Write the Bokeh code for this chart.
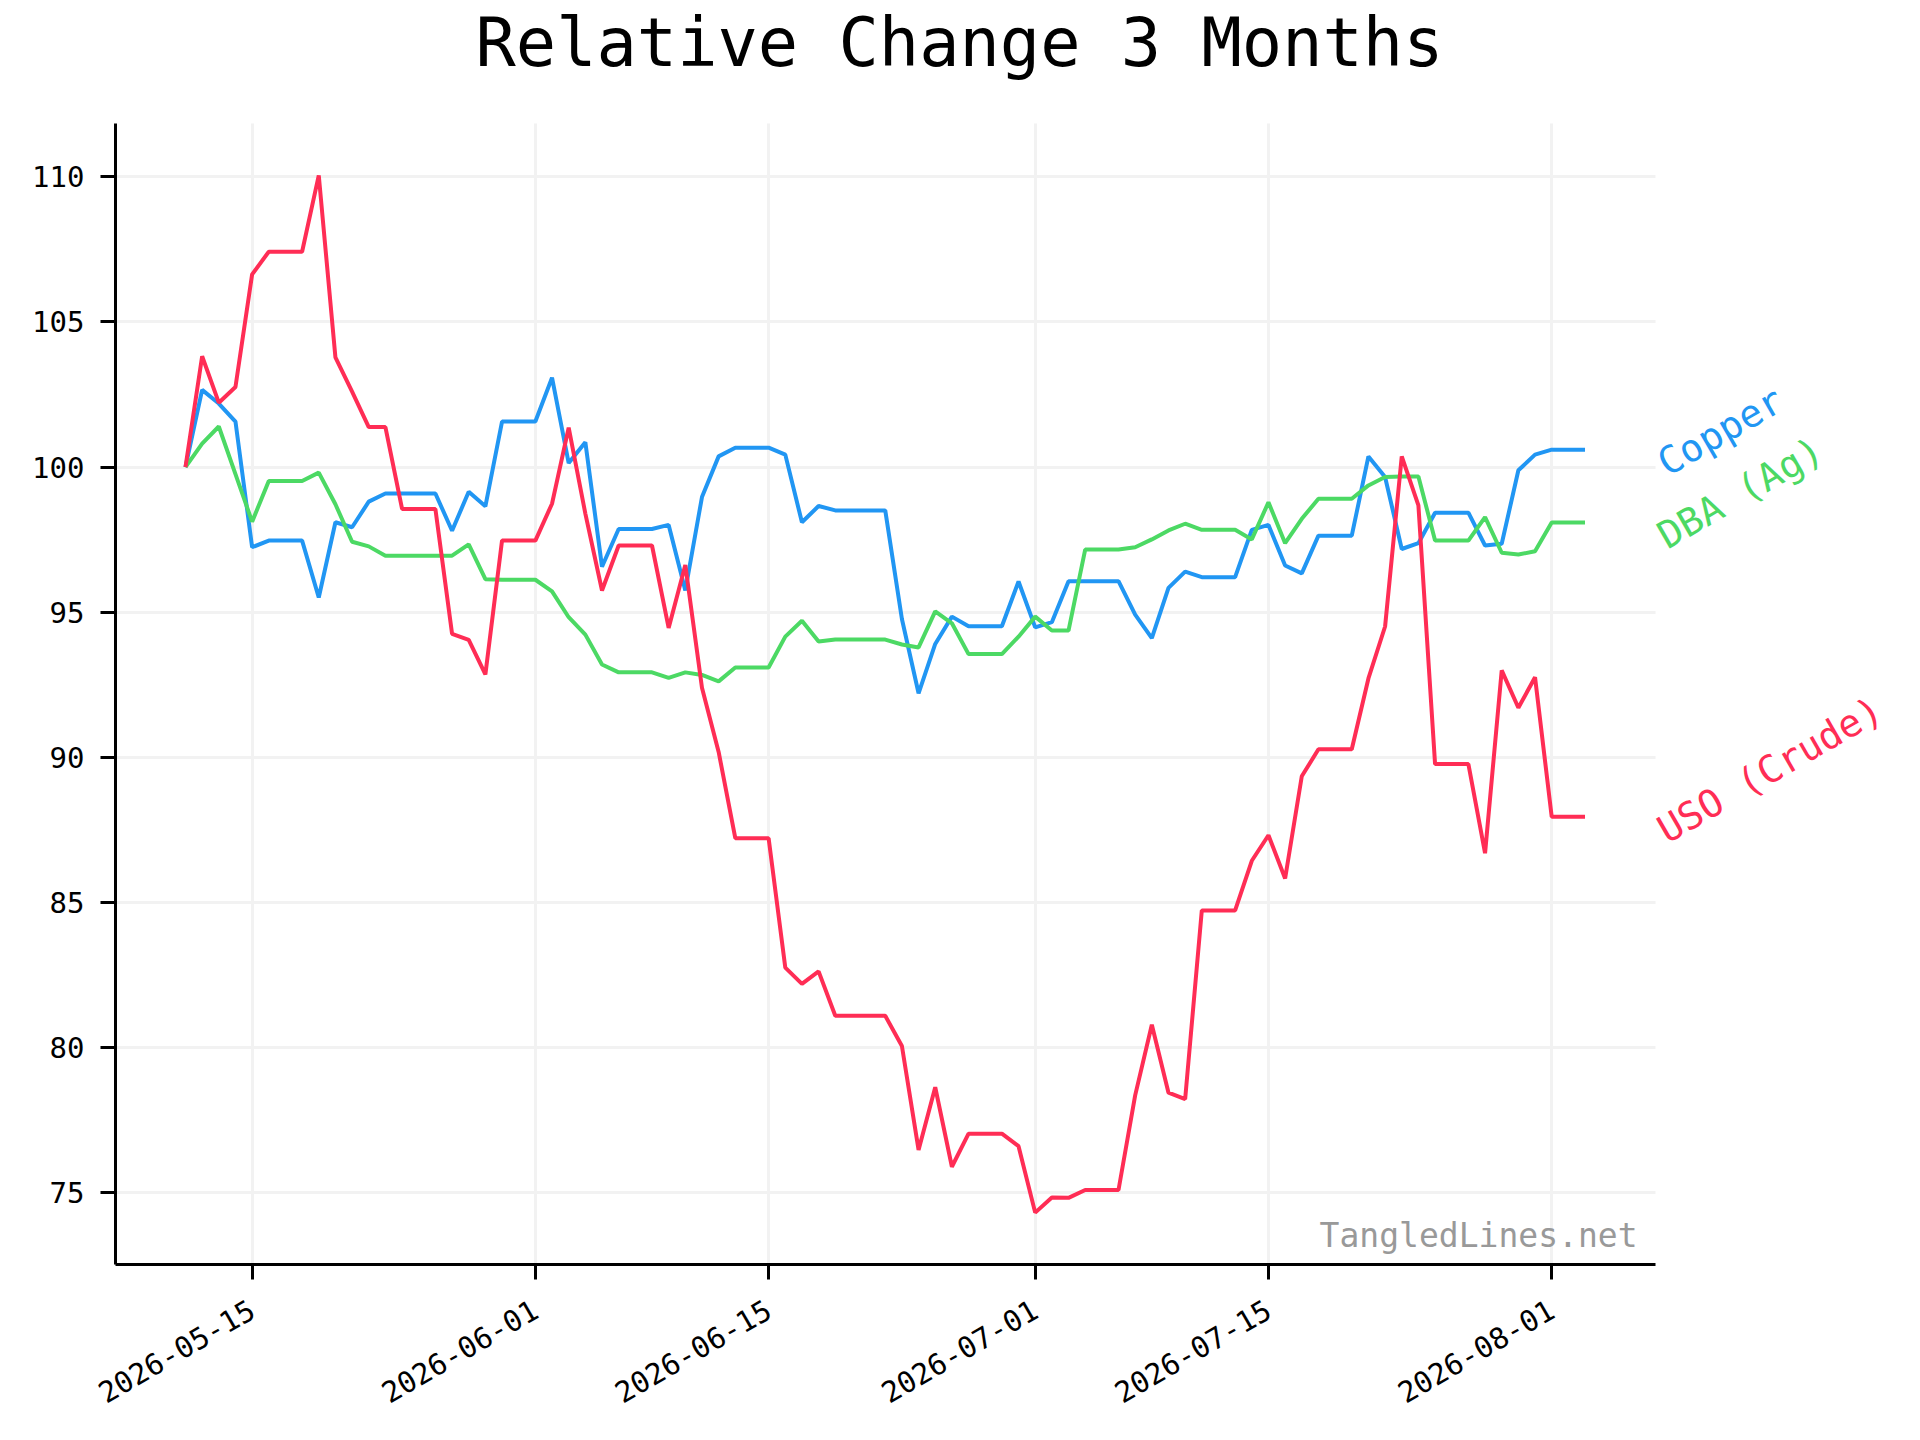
import pandas as pd
from math import radians
from bokeh.plotting import figure
from bokeh.models import (Range1d, FixedTicker, DatetimeTickFormatter, Label,
                          ColumnDataSource, Grid)
from bokeh.embed import file_html
from bokeh.resources import INLINE

# ---------------- data ----------------
dates = pd.date_range("2026-05-11", "2026-08-03", freq="D")

copper = [100.0, 102.66, 102.19, 101.57, 97.24, 97.47, 97.47, 97.47, 95.51, 98.10,
          97.93, 98.81, 99.09, 99.09, 99.09, 99.09, 97.81, 99.15, 98.65, 101.57,
          101.57, 101.57, 103.08, 100.14, 100.86, 96.57, 97.87, 97.87, 97.87, 98.01,
          95.75, 98.97, 100.37, 100.67, 100.67, 100.67, 100.43, 98.10, 98.66, 98.51,
          98.51, 98.51, 98.51, 94.77, 92.21, 93.91, 94.85, 94.52, 94.52, 94.52,
          96.06, 94.48, 94.66, 96.07, 96.07, 96.07, 96.07, 94.92, 94.11, 95.84,
          96.40, 96.21, 96.21, 96.21, 97.84, 98.01, 96.61, 96.34, 97.64, 97.64,
          97.64, 100.37, 99.66, 97.18, 97.38, 98.43, 98.43, 98.43, 97.30, 97.36,
          99.89, 100.43, 100.60, 100.60, 100.60]

dba = [100.0, 100.81, 101.40, 99.76, 98.12, 99.52, 99.52, 99.52, 99.81, 98.72,
       97.43, 97.27, 96.95, 96.95, 96.95, 96.95, 96.95, 97.34, 96.14, 96.12,
       96.12, 96.12, 95.72, 94.83, 94.23, 93.20, 92.93, 92.93, 92.93, 92.74,
       92.93, 92.84, 92.62, 93.10, 93.10, 93.10, 94.16, 94.71, 93.99, 94.06,
       94.06, 94.06, 94.06, 93.89, 93.79, 95.03, 94.62, 93.56, 93.56, 93.56,
       94.16, 94.85, 94.37, 94.37, 97.16, 97.16, 97.16, 97.24, 97.51, 97.82,
       98.05, 97.84, 97.84, 97.84, 97.51, 98.79, 97.38, 98.22, 98.91, 98.91,
       98.91, 99.37, 99.66, 99.68, 99.68, 97.47, 97.47, 97.47, 98.28, 97.05,
       96.99, 97.10, 98.09, 98.09, 98.09]

uso = [100.0, 103.82, 102.22, 102.76, 106.64, 107.42, 107.42, 107.42, 110.05, 103.78,
       102.6, 101.38, 101.38, 98.56, 98.56, 98.56, 94.26, 94.05, 92.86, 97.47,
       97.47, 97.47, 98.74, 101.36, 98.4, 95.75, 97.30, 97.30, 97.30, 94.46,
       96.63, 92.4, 90.19, 87.22, 87.22, 87.22, 82.76, 82.20, 82.63, 81.10,
       81.10, 81.10, 81.10, 80.06, 76.48, 78.64, 75.90, 77.04, 77.04, 77.04,
       76.61, 74.32, 74.84, 74.83, 75.10, 75.10, 75.10, 78.36, 80.79, 78.45,
       78.23, 84.73, 84.73, 84.73, 86.44, 87.32, 85.83, 89.35, 90.28, 90.28,
       90.28, 92.72, 94.51, 100.37, 98.68, 89.77, 89.77, 89.77, 86.70, 93.0,
       91.71, 92.76, 87.96, 87.96, 87.96]

series_names = ["Copper", "DBA (Ag)", "USO (Crude)"]
series_colors = ["#2196F3", "#4CD964", "#FF2D55"]
x_tick_labels = ["2026-05-15", "2026-06-01", "2026-06-15", "2026-07-01", "2026-07-15", "2026-08-01"]
y_ticks = [75, 80, 85, 90, 95, 100, 105, 110]
title_text = "Relative Change 3 Months"
watermark_text = "TangledLines.net"

FONT = "DejaVu Sans Mono"

# ---------------- layout (pixels) ----------------
W, H = 1904, 1424
AX_LEFT, AX_RIGHT = 115, 1654.5      # visible axes box
AX_TOP, AX_BOTTOM = 123, 1264
BORDER_BOTTOM = H - AX_BOTTOM
FRAME_W = W - AX_LEFT                # frame extended to right/top edge so that
FRAME_H = AX_BOTTOM                  # outside labels are not clipped


def ms(t):
    return pd.Timestamp(t).value // 10**6


x_ms = [ms(d) for d in dates]
series = [copper, dba, uso]

# axes limits with 5% padding (matplotlib-style margins)
xpad = (x_ms[-1] - x_ms[0]) * 0.05
x_lo, x_hi = x_ms[0] - xpad, x_ms[-1] + xpad
allv = copper + dba + uso
ypad = (max(allv) - min(allv)) * 0.05
y_lo, y_hi = min(allv) - ypad, max(allv) + ypad

# extend ranges so the axes box keeps its size inside the larger frame
x_end = x_lo + (x_hi - x_lo) * FRAME_W / (AX_RIGHT - AX_LEFT)
y_end = y_lo + (y_hi - y_lo) * FRAME_H / (AX_BOTTOM - AX_TOP)

p = figure(width=W, height=H, x_axis_type="datetime",
           x_range=Range1d(x_lo, x_end), y_range=Range1d(y_lo, y_end),
           output_backend="svg", toolbar_location=None,
           min_border_left=AX_LEFT, min_border_right=0,
           min_border_top=0, min_border_bottom=BORDER_BOTTOM)

p.background_fill_color = "white"
p.border_fill_color = "white"
p.outline_line_color = None

# axes
tick_ms = [ms(t) for t in x_tick_labels]
p.xaxis.ticker = FixedTicker(ticks=tick_ms)
fmt = "%Y-%m-%d"
p.xaxis.formatter = DatetimeTickFormatter(milliseconds=fmt, seconds=fmt, minsec=fmt, minutes=fmt,
                                          hourmin=fmt, hours=fmt, days=fmt, months=fmt, years=fmt)
p.xaxis.major_label_orientation = radians(30)
p.yaxis.ticker = FixedTicker(ticks=y_ticks)
p.xaxis.bounds = (x_lo, x_hi)
p.yaxis.bounds = (y_lo, y_hi)

for ax in (p.xaxis, p.yaxis):
    ax.major_label_text_font = FONT
    ax.major_label_text_font_size = "29px"
    ax.major_label_text_color = "black"
    ax.major_tick_out = 15
    ax.major_tick_in = 0
    ax.major_tick_line_width = 3
    ax.major_tick_line_color = "black"
    ax.minor_tick_line_color = None
    ax.axis_line_width = 3
    ax.axis_line_color = "black"
p.yaxis.major_label_standoff = 16
p.xaxis.major_label_standoff = 28

GRID_COLOR = "#f2f2f2"
if "cross_bounds" in Grid.properties():
    p.grid.grid_line_color = GRID_COLOR
    p.grid.grid_line_width = 3
    p.xgrid.cross_bounds = (y_lo, y_hi)
    p.ygrid.cross_bounds = (x_lo, x_hi)
else:
    p.grid.visible = False
    p.segment(x0=tick_ms, y0=[y_lo] * len(tick_ms), x1=tick_ms, y1=[y_hi] * len(tick_ms),
              line_color=GRID_COLOR, line_width=3)
    p.segment(x0=[x_lo] * len(y_ticks), y0=y_ticks, x1=[x_hi] * len(y_ticks), y1=y_ticks,
              line_color=GRID_COLOR, line_width=3)

# lines
src = ColumnDataSource(dict(x=x_ms, copper=copper, dba=dba, uso=uso))
for key, color in zip(["copper", "dba", "uso"], series_colors):
    p.line("x", key, source=src, line_width=4, line_color=color)

# end labels
for name, vals, color in zip(series_names, series, series_colors):
    p.add_layout(Label(x=x_ms[-1], y=vals[-1], x_offset=76, y_offset=-16,
                       angle=radians(30), text=name, text_color=color,
                       text_font=FONT, text_font_size="38px",
                       text_align="left", text_baseline="alphabetic"))

# title (centered on the whole figure)
p.add_layout(Label(x=959 - AX_LEFT, y=FRAME_H - 42, x_units="screen", y_units="screen",
                   text=title_text, text_font=FONT, text_font_size="67px",
                   text_color="black", text_align="center", text_baseline="alphabetic"))

# watermark
p.add_layout(Label(x=1637 - AX_LEFT, y=10, x_units="screen", y_units="screen",
                   text=watermark_text, text_font=FONT, text_font_size="33px",
                   text_color="#999999", text_align="right", text_baseline="bottom"))

open("out.html", "w").write(file_html(p, INLINE))
